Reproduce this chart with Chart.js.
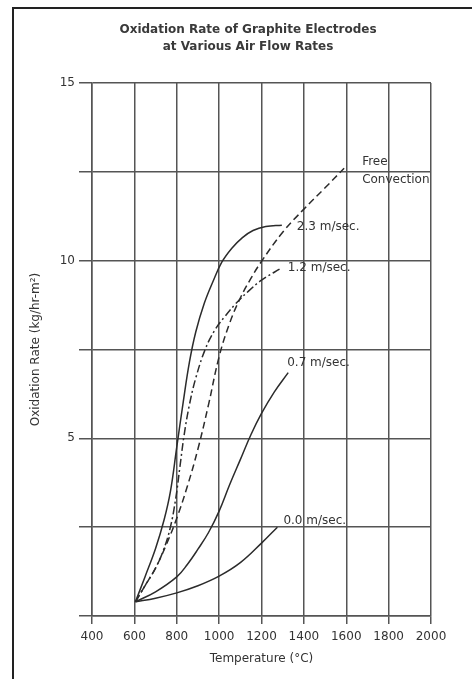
<!DOCTYPE html>
<html>
<head>
<meta charset="utf-8">
<script src="https://cdn.jsdelivr.net/npm/chart.js@4"></script>
<style>
  body { margin: 0; background: #fff; }
  #wrap { position: relative; width: 472px; height: 679px; overflow: hidden; }
  #frame { position: absolute; left: 12px; top: 7px; width: 480px; height: 700px;
           border-left: 2px solid #222; border-top: 2px solid #222; pointer-events: none; }
</style>
</head>
<body>
<div id="wrap">
  <canvas id="chart" width="472" height="679"></canvas>
  <div id="frame"></div>
</div>
<script>
// --- data (temperature in °C, rate in kg/hr-m²) ---
const tempFree = [605, 650, 700, 750, 800, 850, 900, 950, 1000, 1050, 1100, 1150, 1200, 1300, 1400, 1500, 1590];
const rateFree = [0.4, 0.85, 1.35, 2.0, 2.75, 3.65, 4.7, 5.95, 7.3, 8.25, 8.95, 9.5, 9.98, 10.8, 11.45, 12.05, 12.6];

const temp23 = [605, 650, 700, 740, 770, 800, 830, 860, 890, 930, 970, 1012, 1060, 1110, 1160, 1220, 1296];
const rate23 = [0.4, 1.1, 1.9, 2.7, 3.5, 4.75, 6.0, 7.15, 8.0, 8.8, 9.4, 9.95, 10.35, 10.65, 10.85, 10.96, 11.0];

const temp12 = [605, 650, 700, 740, 770, 795, 815, 835, 860, 890, 934, 980, 1030, 1080, 1140, 1200, 1296];
const rate12 = [0.4, 0.85, 1.35, 1.9, 2.5, 3.3, 4.2, 5.1, 5.95, 6.7, 7.5, 8.05, 8.45, 8.8, 9.15, 9.45, 9.8];

const temp07 = [605, 700, 800, 850, 900, 950, 1000, 1050, 1100, 1150, 1200, 1260, 1326];
const rate07 = [0.4, 0.68, 1.1, 1.45, 1.88, 2.35, 2.95, 3.7, 4.4, 5.1, 5.7, 6.3, 6.85];

const temp00 = [605, 700, 800, 900, 1000, 1100, 1200, 1275];
const rate00 = [0.4, 0.5, 0.65, 0.85, 1.12, 1.5, 2.05, 2.5];

const seriesNames = ['Free\nConvection', '2.3 m/sec.', '1.2 m/sec.', '0.7 m/sec.', '0.0 m/sec.'];
const xTickValues = [400, 600, 800, 1000, 1200, 1400, 1600, 1800, 2000];
const yLabelValues = [5, 10, 15];

const INK = '#333';
const GRID = '#555';
const FONT = { family: 'DejaVu Sans', size: 12 };

Chart.defaults.font.family = 'DejaVu Sans';

function pts(xs, ys) {
    return xs.map((x, i) => ({ x: x, y: ys[i] }));
}

// where each curve's name sits, relative to its last point (px)
const labelOffsets = [[18, -6], [15, 2], [6, 0], [-1, -10], [6, -6]];

const curveLabels = {
    id: 'curveLabels',
    afterDatasetsDraw(chart) {
        const ctx = chart.ctx;
        ctx.save();
        ctx.font = '12px "DejaVu Sans"';
        ctx.fillStyle = INK;
        ctx.textBaseline = 'middle';
        chart.data.datasets.forEach((ds, i) => {
            const meta = chart.getDatasetMeta(i);
            const last = meta.data[meta.data.length - 1];
            const off = labelOffsets[i];
            ds.label.split('\n').forEach((line, j) => {
                ctx.fillText(line, last.x + off[0], last.y + off[1] + j * 18);
            });
        });
        ctx.restore();
    }
};

const lineStyle = { borderColor: '#2b2b2b', borderWidth: 1.5, pointRadius: 0,
                    fill: false, tension: 0.4 };

new Chart(document.getElementById('chart'), {
    type: 'line',
    data: {
        datasets: [
            Object.assign({ label: seriesNames[0], data: pts(tempFree, rateFree), borderDash: [7, 4] }, lineStyle),
            Object.assign({ label: seriesNames[1], data: pts(temp23, rate23) }, lineStyle),
            Object.assign({ label: seriesNames[2], data: pts(temp12, rate12), borderDash: [8, 3, 2, 3] }, lineStyle),
            Object.assign({ label: seriesNames[3], data: pts(temp07, rate07) }, lineStyle),
            Object.assign({ label: seriesNames[4], data: pts(temp00, rate00) }, lineStyle)
        ]
    },
    options: {
        responsive: false,
        animation: false,
        layout: { padding: { left: 24, right: 0, top: 0, bottom: 0 } },
        plugins: {
            legend: { display: false },
            tooltip: { enabled: false },
            title: {
                display: true,
                text: ['Oxidation Rate of Graphite Electrodes', 'at Various Air Flow Rates'],
                color: '#3a3a3a',
                font: { family: 'DejaVu Sans', size: 12, weight: 'bold', lineHeight: 17 / 12 },
                padding: { top: 21.5, bottom: 27.5 }
            }
        },
        scales: {
            x: {
                type: 'linear',
                min: xTickValues[0],
                max: xTickValues[xTickValues.length - 1],
                afterBuildTicks: s => { s.ticks = xTickValues.map(v => ({ value: v })); },
                ticks: { color: INK, font: FONT, padding: 6, maxRotation: 0, autoSkip: false,
                         callback: v => String(v) },
                grid: { color: GRID, lineWidth: 1.5, tickLength: 8 },
                border: { color: GRID, width: 1.5 },
                title: { display: true, text: 'Temperature (°C)', color: INK, font: FONT,
                         padding: { top: 4, bottom: 13 } },
                afterFit: s => { s.height = 63; }
            },
            y: {
                min: 0,
                max: 15,
                ticks: { stepSize: 2.5, color: INK, font: FONT, padding: 4,
                         callback: v => yLabelValues.includes(v) ? String(v) : '' },
                grid: { color: GRID, lineWidth: 1.5, tickLength: 13 },
                border: { color: GRID, width: 1.5 },
                title: { display: true, text: 'Oxidation Rate (kg/hr-m²)', color: INK, font: FONT,
                         padding: { top: 5, bottom: 0 } },
                afterFit: s => { s.width = 68; }
            },
            yRight: {
                position: 'right',
                display: true,
                grid: { display: false },
                ticks: { display: false },
                border: { display: false },
                afterFit: s => { s.width = 41; }
            }
        }
    },
    plugins: [curveLabels]
});
</script>
</body>
</html>
